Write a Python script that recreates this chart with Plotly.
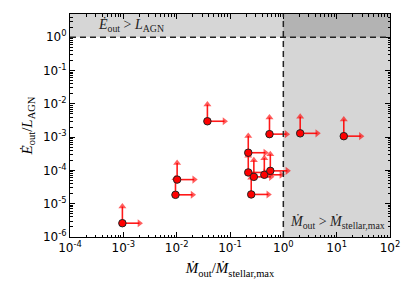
import numpy as np
import plotly.graph_objects as go

# Data (lower limits: arrows up and right)
mdot_ratio = [0.00096, 0.0095, 0.0102, 0.0377, 0.22, 0.22, 0.25, 0.28, 0.44, 0.57, 0.55, 2.07, 13.6]
edot_ratio = [2.6e-6, 1.85e-5, 5.3e-5, 3.0e-3, 3.4e-4, 8.7e-5, 1.9e-5, 6.4e-5, 7.4e-5, 9.7e-5, 1.23e-3, 1.3e-3, 1.07e-3]

x_tick_vals = [1e-4, 1e-3, 1e-2, 1e-1, 1e0, 1e1, 1e2]
x_tick_text = ["10<sup>-4</sup>", "10<sup>-3</sup>", "10<sup>-2</sup>", "10<sup>-1</sup>",
               "10<sup>0</sup>", "10<sup>1</sup>", "10<sup>2</sup>"]
y_tick_vals = [1e-6, 1e-5, 1e-4, 1e-3, 1e-2, 1e-1, 1e0]
y_tick_text = ["10<sup>-6</sup>", "10<sup>-5</sup>", "10<sup>-4</sup>", "10<sup>-3</sup>",
               "10<sup>-2</sup>", "10<sup>-1</sup>", "10<sup>0</sup>"]

x_range = [-4, 2]
y_range = [-6, np.log10(5)]

# arrow lengths (in decades) for the lower-limit arrows
up_len = 0.5
right_len = 0.32

def minor_vals(lo, hi):
    return [m * 10.0**d for d in range(lo, hi) for m in range(2, 10)]

fig = go.Figure()

arrow_col = "rgba(255,0,0,0.9)"
ux, uy, usz = [], [], []
rx, ry, rsz = [], [], []
for xv, yv in zip(mdot_ratio, edot_ratio):
    ux += [xv, xv, None]
    uy += [yv * 1.12, yv * 10**up_len, None]
    usz += [0, 7, 0]
    rx += [xv * 1.1, xv * 10**right_len, None]
    ry += [yv, yv, None]
    rsz += [0, 7, 0]

fig.add_trace(go.Scatter(
    x=ux, y=uy, mode="lines+markers", line=dict(color=arrow_col, width=1.6),
    marker=dict(symbol="triangle-up", size=usz, color=arrow_col, line=dict(width=0)),
    showlegend=False, hoverinfo="skip", connectgaps=False))
fig.add_trace(go.Scatter(
    x=rx, y=ry, mode="lines+markers", line=dict(color=arrow_col, width=1.6),
    marker=dict(symbol="triangle-right", size=rsz, color=arrow_col, line=dict(width=0)),
    showlegend=False, hoverinfo="skip", connectgaps=False))

fig.add_trace(go.Scatter(
    x=mdot_ratio, y=edot_ratio, mode="markers",
    marker=dict(size=7.5, color="red", line=dict(color="#222", width=1)),
    showlegend=False, hoverinfo="skip"))

shade = "rgba(0,0,0,0.16)"
shapes = [
    dict(type="rect", xref="paper", yref="y", x0=0, x1=1, y0=1, y1=10**y_range[1],
         fillcolor=shade, line=dict(width=0), layer="below"),
    dict(type="rect", xref="x", yref="paper", x0=1, x1=10**x_range[1], y0=0, y1=1,
         fillcolor=shade, line=dict(width=0), layer="below"),
    dict(type="line", xref="paper", yref="y", x0=0, x1=1, y0=1, y1=1,
         line=dict(color="#222", width=1.5, dash="6px,4px")),
    dict(type="line", xref="x", yref="paper", x0=1, x1=1, y0=0, y1=1,
         line=dict(color="#222", width=1.5, dash="6px,4px")),
]

annotations = [
    dict(x=0.08, y=0.36, xref="paper", yref="y", xanchor="left", yanchor="middle",
         text="<i>Ė</i><sub>out</sub> > <i>L</i><sub>AGN</sub>", showarrow=False,
         font=dict(family="Liberation Serif", size=14, color="#222")),
    dict(x=0.99, y=-5.55, xref="paper", yref="y", xanchor="right", yanchor="middle",
         text="<i>Ṁ</i><sub>out</sub> > <i>Ṁ</i><sub>stellar,max</sub>", showarrow=False,
         font=dict(family="Liberation Serif", size=14, color="#222")),
]

axis_common = dict(
    type="log", showgrid=False, zeroline=False, showline=True, linecolor="black",
    linewidth=1, mirror="allticks", ticks="inside", ticklen=5, tickcolor="black",
    tickmode="array", automargin=False,
    tickfont=dict(family="DejaVu Sans", size=12, color="black"),
)

fig.update_xaxes(**axis_common, range=x_range, tickvals=x_tick_vals, ticktext=x_tick_text,
                 minor=dict(ticks="inside", ticklen=2.5, tickcolor="black",
                            tickmode="array", tickvals=minor_vals(-4, 2)),
                 title=dict(text="<i>Ṁ</i><sub>out</sub>/<i>Ṁ</i><sub>stellar,max</sub>",
                            font=dict(family="Liberation Serif", size=15, color="black"),
                            standoff=8))
fig.update_yaxes(**axis_common, range=y_range, tickvals=y_tick_vals, ticktext=y_tick_text,
                 minor=dict(ticks="inside", ticklen=2.5, tickcolor="black",
                            tickmode="array", tickvals=minor_vals(-6, 1)),
                 title=dict(text="<i>Ė</i><sub>out</sub>/<i>L</i><sub>AGN</sub>",
                            font=dict(family="Liberation Serif", size=15, color="black"),
                            standoff=6))

# page body has an 8px default margin, so size/margins compensate for it
fig.update_layout(
    width=407, height=294, margin=dict(l=62, r=25, t=6, b=65),
    plot_bgcolor="white", paper_bgcolor="white",
    shapes=shapes, annotations=annotations,
)

fig.write_html("out.html")
